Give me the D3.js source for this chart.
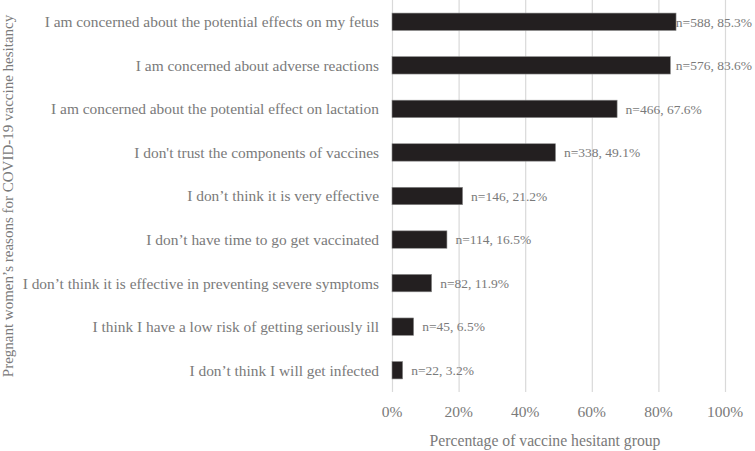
<!DOCTYPE html>
<html>
<head>
<meta charset="utf-8">
<script src="https://cdn.jsdelivr.net/npm/d3@7"></script>
<style>
  body { margin: 0; background: #fff; }
  text { font-family: "Liberation Serif", "Times New Roman", serif; fill: #7a7a7a; }
</style>
</head>
<body>
<script>
// chart data, top bar first
var reasons = [
  "I am concerned about the potential effects on my fetus",
  "I am concerned about adverse reactions",
  "I am concerned about the potential effect on lactation",
  "I don't trust the components of vaccines",
  "I don\u2019t think it is very effective",
  "I don\u2019t have time to go get vaccinated",
  "I don\u2019t think it is effective in preventing severe symptoms",
  "I think I have a low risk of getting seriously ill",
  "I don\u2019t think I will get infected"
];
var counts = [588, 576, 466, 338, 146, 114, 82, 45, 22];
var percents = [85.3, 83.6, 67.6, 49.1, 21.2, 16.5, 11.9, 6.5, 3.2];
var ticks = [0, 20, 40, 60, 80, 100];

var width = 755, height = 451;
var margin = {top: 0, right: 30, bottom: 59, left: 392};

var svg = d3.select("body").append("svg")
    .attr("width", width)
    .attr("height", height);

var x = d3.scaleLinear()
    .domain([0, 100])
    .range([margin.left, width - margin.right]);

var y = d3.scaleBand()
    .domain(reasons)
    .range([margin.top, height - margin.bottom])
    .paddingInner(0.6)
    .paddingOuter(0.3);

// vertical gridlines
svg.append("g")
    .selectAll("line")
    .data(ticks)
    .enter()
    .append("line")
    .attr("x1", d => x(d) + 0.5)
    .attr("x2", d => x(d) + 0.5)
    .attr("y1", margin.top)
    .attr("y2", height - margin.bottom)
    .attr("stroke", "#d9d9d9")
    .attr("stroke-width", 1.2);

// x tick labels
svg.append("g")
    .selectAll("text")
    .data(ticks)
    .enter()
    .append("text")
    .attr("x", d => x(d))
    .attr("y", height - margin.bottom + 25)
    .attr("text-anchor", "middle")
    .style("font-size", "15.5px")
    .text(d => d + "%");

// category labels
svg.append("g")
    .selectAll("text")
    .data(reasons)
    .enter()
    .append("text")
    .attr("x", margin.left - 13)
    .attr("y", d => y(d) + y.bandwidth() / 2)
    .attr("dy", "0.35em")
    .attr("text-anchor", "end")
    .style("font-size", "15.4px")
    .text(d => d);

// bars
svg.append("g")
    .selectAll("rect")
    .data(percents)
    .enter()
    .append("rect")
    .attr("x", x(0))
    .attr("y", (d, i) => y(reasons[i]))
    .attr("width", d => x(d) - x(0))
    .attr("height", y.bandwidth())
    .attr("fill", "#231f20")
    .attr("stroke", "#8c8c8c")
    .attr("stroke-width", 0.6);

// value labels, pulled back in when they would run off the right edge
svg.append("g")
    .selectAll("text")
    .data(percents)
    .enter()
    .append("text")
    .attr("y", (d, i) => y(reasons[i]) + y.bandwidth() / 2)
    .attr("dy", "0.35em")
    .style("font-size", "13.5px")
    .text((d, i) => "n=" + counts[i] + ", " + d.toFixed(1) + "%")
    .attr("x", function (d) {
        var w = this.getComputedTextLength();
        return Math.min(x(d) + 8.5, 752 - w);
    });

// axis titles
svg.append("text")
    .attr("x", 545)
    .attr("y", height - 5)
    .attr("text-anchor", "middle")
    .style("font-size", "15.7px")
    .text("Percentage of vaccine hesitant group");

svg.append("text")
    .attr("transform", "translate(13," + ((height - margin.bottom) / 2) + ") rotate(-90)")
    .attr("text-anchor", "middle")
    .style("font-size", "15px")
    .text("Pregnant women\u2019s reasons for COVID-19 vaccine hesitancy");
</script>
</body>
</html>
